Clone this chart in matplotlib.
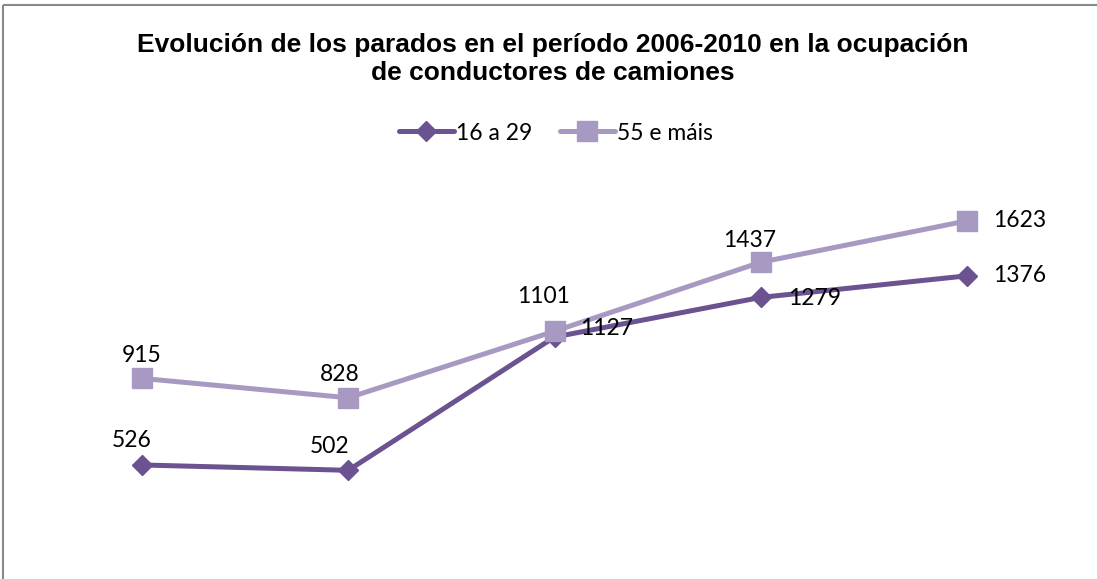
import matplotlib
matplotlib.use("Agg")
import matplotlib.pyplot as plt
from matplotlib.patches import Rectangle

years = ["2006", "2007", "2008", "2009", "2010"]
serie_jovenes = [526, 502, 1101, 1279, 1376]
serie_mayores = [915, 828, 1127, 1437, 1623]
nombres = ["16 a 29", "55 e máis"]
titulo = "Evolución de los parados en el período 2006-2010 en la ocupación\nde conductores de camiones"

W, H = 1097, 579
fig = plt.figure(figsize=(W / 100, H / 100), dpi=100)

# axes placement (pixels)
x0, x1 = 39, 1070
ytop, ybot = 137, 582
ax = fig.add_axes([x0 / W, (H - ybot) / H, (x1 - x0) / W, (ybot - ytop) / H])
ax.set_xlim(-0.5, 4.5)
ax.set_ylim(0, 2000)
ax.axis("off")

c_dark = "#6B5290"
c_light = "#A899C2"
lbl_font = dict(family="Lato", fontsize=16.5, color="black")

xs = list(range(len(years)))
l1, = ax.plot(xs, serie_jovenes, color=c_dark, lw=3.6, marker="D", markersize=10.5,
              label=nombres[0], zorder=3, solid_capstyle="round")
l2, = ax.plot(xs, serie_mayores, color=c_light, lw=3.6, marker="s", markersize=15,
              label=nombres[1], zorder=4, solid_capstyle="round")

off1 = [(-10, 24, "center"), (-19, 24, "center"), (-11, 41, "center"), (27, -1, "left"), (26, 0, "left")]
off2 = [(0, 23, "center"), (-9, 23, "center"), (26, 3, "left"), (-11, 22, "center"), (26, 0, "left")]
for x, v, (dx, dy, ha) in zip(xs, serie_jovenes, off1):
    ax.annotate(str(v), (x, v), xytext=(dx, dy), textcoords="offset pixels",
                ha=ha, va="center", zorder=5, **lbl_font)
for x, v, (dx, dy, ha) in zip(xs, serie_mayores, off2):
    ax.annotate(str(v), (x, v), xytext=(dx, dy), textcoords="offset pixels",
                ha=ha, va="center", zorder=5, **lbl_font)

fig.text(553 / W, 1 - 59 / H, titulo, ha="center", va="center", family="Liberation Sans",
         fontweight="bold", fontsize=19, linespacing=1.2)

leg = fig.legend(handles=[l1, l2], loc="center", bbox_to_anchor=(556 / W, 1 - 133 / H),
                 ncol=2, frameon=False, prop=dict(family="Lato", size=16.5),
                 handlelength=2.4, handletextpad=0.1, columnspacing=1.2)

fig.patches.append(Rectangle((3, H - 5), W + 20, -H - 20, transform=None, fill=False,
                             edgecolor="#898989", lw=1.5))

fig.savefig("out.png", dpi=100)
